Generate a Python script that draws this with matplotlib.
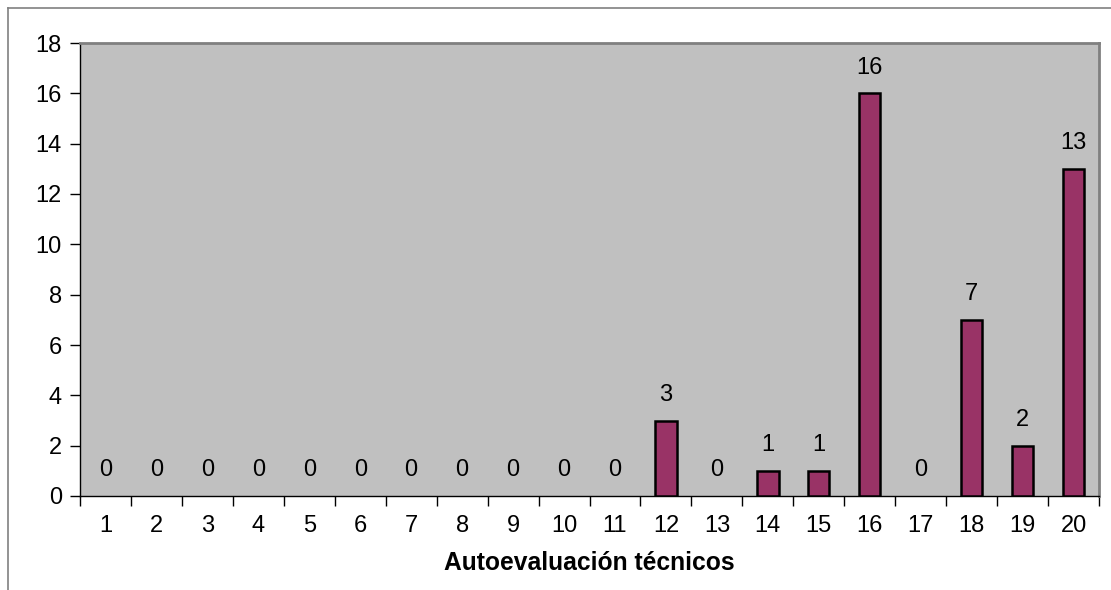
import matplotlib
matplotlib.use('Agg')
import matplotlib.pyplot as plt
from matplotlib.lines import Line2D

plt.rcParams['font.family'] = ['Liberation Sans', 'DejaVu Sans']

categories = [str(i) for i in range(1, 21)]
counts = [0, 0, 0, 0, 0, 0, 0, 0, 0, 0, 0, 3, 0, 1, 1, 16, 0, 7, 2, 13]
y_ticks = [0, 2, 4, 6, 8, 10, 12, 14, 16, 18]
x_label = 'Autoevaluación técnicos'

fig = plt.figure(figsize=(11.11, 5.9), dpi=100)
ax = fig.add_axes([80 / 1111, 1 - 496 / 590, 1019 / 1111, 453 / 590])
ax.set_facecolor('#c0c0c0')

x = list(range(len(categories)))
# zero-height bars get no outline so nothing shows on the baseline
edge_widths = [1.8 if v > 0 else 0 for v in counts]
ax.bar(x, counts, width=0.42, color='#993366', edgecolor='black',
       linewidth=edge_widths, zorder=3)

for xi, v in zip(x, counts):
    ax.annotate(str(v), (xi, v), xytext=(0, 18.5), textcoords='offset points',
                ha='center', va='center', fontsize=17, color='black')

ax.set_xlim(-0.5, len(categories) - 0.5)
ax.set_ylim(0, 18)
ax.set_yticks(y_ticks)
ax.set_yticklabels([str(t) for t in y_ticks], fontsize=17)
ax.set_xticks(x)
ax.set_xticklabels(categories, fontsize=17)
ax.tick_params(axis='x', length=0, pad=14)
ax.set_xticks([i - 0.5 for i in range(len(categories) + 1)], minor=True)
ax.tick_params(axis='x', which='minor', length=7, width=1, direction='out')
ax.tick_params(axis='y', length=7, width=1, direction='out', pad=6)

for side in ['top', 'right']:
    ax.spines[side].set_color('#808080')
    ax.spines[side].set_linewidth(2)
for side in ['left', 'bottom']:
    ax.spines[side].set_color('black')
    ax.spines[side].set_linewidth(1)

ax.set_xlabel(x_label, fontsize=17.7, fontweight='bold', labelpad=10)

# outer chart frame
fig.add_artist(Line2D([7.5 / 1111, 7.5 / 1111], [0, 1 - 7.5 / 590], color='#808080', linewidth=1.2))
fig.add_artist(Line2D([7.5 / 1111, 1], [1 - 7.5 / 590, 1 - 7.5 / 590], color='#808080', linewidth=1.2))

fig.savefig('out.png', dpi=100)
